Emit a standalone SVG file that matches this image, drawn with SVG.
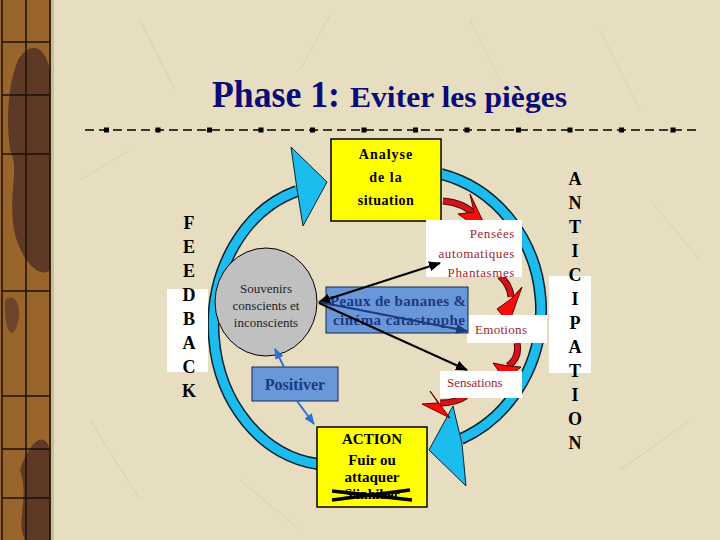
<svg xmlns="http://www.w3.org/2000/svg" width="720" height="540" viewBox="0 0 720 540">
<defs>
<style>
.serif{font-family:"Liberation Serif","Times New Roman",serif}
.letter{font-family:"Liberation Serif",serif;font-weight:bold;font-size:18px;fill:#000;text-anchor:middle}
.red{fill:#A0262C;font-family:"Liberation Serif",serif;font-size:13px}
.navy{fill:#1B3A82;font-family:"Liberation Serif",serif;font-weight:bold}
.bandOut{fill:none;stroke:#0A2030;stroke-width:12}
.bandIn{fill:none;stroke:#1CBDEE;stroke-width:9}
.dart{fill:#1CBDEE;stroke:#0A2030;stroke-width:1}
.redBand{fill:none;stroke:#5A0000;stroke-width:7}
.redBandIn{fill:none;stroke:#D0141A;stroke-width:5}
.redHead{fill:#FF0A0A;stroke:#5A0000;stroke-width:1}
.wbox{fill:#FFFFFF}
.blk{stroke:#000;stroke-width:2;fill:none}
.bl{stroke:#2F6FD8;stroke-width:2;fill:none}
</style>
<marker id="ah" markerWidth="12" markerHeight="10" refX="11" refY="5" orient="auto" markerUnits="userSpaceOnUse">
<path d="M0,0 L12,5 L0,10 Z" fill="#000"/>
</marker>
<marker id="ahs" markerWidth="12" markerHeight="10" refX="1" refY="5" orient="auto" markerUnits="userSpaceOnUse">
<path d="M12,0 L0,5 L12,10 Z" fill="#000"/>
</marker>
<marker id="ahn" markerWidth="12" markerHeight="10" refX="11" refY="5" orient="auto" markerUnits="userSpaceOnUse">
<path d="M0,0 L12,5 L0,10 Z" fill="#1B3A82"/>
</marker>
<marker id="ahb" markerWidth="11" markerHeight="9" refX="10" refY="4.5" orient="auto" markerUnits="userSpaceOnUse">
<path d="M0,0 L11,4.5 L0,9 Z" fill="#2F6FD8"/>
</marker>
</defs>

<!-- background -->
<rect x="0" y="0" width="720" height="540" fill="#E7DEC1"/>
<g stroke="#D2C6A4" stroke-width="1" opacity="0.6" fill="none">
<path d="M140 20 L175 90"/><path d="M330 15 L300 70"/><path d="M600 30 L640 110"/>
<path d="M90 420 L140 500"/><path d="M620 470 L690 420"/><path d="M500 80 L470 20"/>
<path d="M240 480 L300 530"/><path d="M650 200 L700 260"/><path d="M80 180 L130 150"/>
</g>

<!-- left decorative strip -->
<g id="strip">
<rect x="0" y="0" width="52" height="540" fill="#9A652B"/>
<path d="M18 60 C30 40 45 45 50 70 L50 270 C40 280 20 260 14 230 C8 190 20 170 10 150 C5 110 10 80 18 60 Z" fill="#5E3A26"/>
<path d="M20 470 C30 440 45 430 50 450 L50 540 L25 540 C15 520 30 500 20 470 Z" fill="#5E3A26"/>
<path d="M5 300 C15 290 25 310 15 330 C8 340 4 320 5 300 Z" fill="#6E452A"/>
<g stroke="#1A1008" stroke-width="1.5">
<line x1="2" y1="0" x2="2" y2="540"/><line x1="50" y1="0" x2="50" y2="540"/><line x1="26" y1="0" x2="26" y2="540"/>
<line x1="2" y1="42" x2="50" y2="42"/><line x1="2" y1="95" x2="50" y2="95"/><line x1="2" y1="154" x2="50" y2="154"/>
<line x1="2" y1="291" x2="50" y2="291"/><line x1="2" y1="396" x2="50" y2="396"/><line x1="2" y1="449" x2="50" y2="449"/>
<line x1="2" y1="498" x2="50" y2="498"/>
</g>
<rect x="51" y="0" width="3" height="540" fill="#C9BE9A"/>
</g>

<!-- title -->
<g id="title">
<text x="212" y="107" class="serif" font-weight="bold" font-size="37" fill="#0A0A78" textLength="128" lengthAdjust="spacingAndGlyphs">Phase 1:</text>
<text x="350" y="107" class="serif" font-weight="bold" font-size="29" fill="#0A0A78" textLength="217" lengthAdjust="spacingAndGlyphs">Eviter les pièges</text>
</g>

<!-- dashed rule -->
<g id="rule">
<line x1="85" y1="130" x2="697" y2="130" stroke="#000" stroke-width="1.5" stroke-dasharray="9 5"/>
<g fill="#000">
<rect x="104" y="127.5" width="5" height="5"/><rect x="155.5" y="127.5" width="5" height="5"/><rect x="207" y="127.5" width="5" height="5"/>
<rect x="258.5" y="127.5" width="5" height="5"/><rect x="310" y="127.5" width="5" height="5"/><rect x="361.5" y="127.5" width="5" height="5"/>
<rect x="413" y="127.5" width="5" height="5"/><rect x="464.5" y="127.5" width="5" height="5"/><rect x="516" y="127.5" width="5" height="5"/>
<rect x="567.5" y="127.5" width="5" height="5"/><rect x="619" y="127.5" width="5" height="5"/><rect x="670.5" y="127.5" width="5" height="5"/>
</g>
</g>

<!-- big cyan cycle arrows -->
<g id="cycle">
<path class="bandOut" d="M297 191 A118 140 0 0 0 318 464"/>
<path class="bandIn" d="M297 191 A118 140 0 0 0 318 464"/>
<polygon class="dart" points="291,147 327,182 303,226 297,189"/>
<path class="bandOut" d="M441 174 A131 140 0 0 1 461 439"/>
<path class="bandIn" d="M441 174 A131 140 0 0 1 461 439"/>
<polygon class="dart" points="453,406 429,450 466,486 462,444"/>
</g>

<!-- red flow arrows -->
<g id="redArrows">
<path class="redBand" d="M443 201 Q465 203 476 216"/><path class="redBandIn" d="M443 201 Q465 203 476 216"/>
<polygon class="redHead" points="470,194 490,236 458,214 474,212"/>
<path class="redBand" d="M500 276 Q510 285 511 297"/><path class="redBandIn" d="M500 276 Q510 285 511 297"/>
<polygon class="redHead" points="522,287 509,323 497,309 511,299"/>
<path class="redBand" d="M517 343 Q520 358 508 366"/><path class="redBandIn" d="M517 343 Q520 358 508 366"/>
<polygon class="redHead" points="493,363 508,366 521,367 505,380"/>
<path class="redBand" d="M466 396 Q456 403 440 403"/><path class="redBandIn" d="M466 396 Q456 403 440 403"/>
<polygon class="redHead" points="430,391 438,403 422,404 450,418"/>
</g>

<!-- side labels -->
<g id="feedback">
<rect x="167" y="289" width="41" height="83" fill="#FFFFFF"/>
<text class="letter" x="189" y="229">F</text><text class="letter" x="189" y="253">E</text>
<text class="letter" x="189" y="277">E</text><text class="letter" x="189" y="301">D</text>
<text class="letter" x="189" y="325">B</text><text class="letter" x="189" y="349">A</text>
<text class="letter" x="189" y="373">C</text><text class="letter" x="189" y="397">K</text>
</g>
<g id="anticipation">
<rect x="549" y="276" width="42" height="97" fill="#FFFFFF"/>
<text class="letter" x="575" y="185">A</text><text class="letter" x="575" y="209">N</text>
<text class="letter" x="575" y="233">T</text><text class="letter" x="575" y="257">I</text>
<text class="letter" x="575" y="281">C</text><text class="letter" x="575" y="305">I</text>
<text class="letter" x="575" y="329">P</text><text class="letter" x="575" y="353">A</text>
<text class="letter" x="575" y="377">T</text><text class="letter" x="575" y="401">I</text>
<text class="letter" x="575" y="425">O</text><text class="letter" x="575" y="449">N</text>
</g>

<!-- nodes -->
<g id="analyse">
<rect x="331" y="139" width="110" height="82" fill="#FFFF00" stroke="#000" stroke-width="1.5"/>
<text class="serif" font-weight="bold" font-size="14" letter-spacing="1" text-anchor="middle" x="386" y="159">Analyse</text>
<text class="serif" font-weight="bold" font-size="14" letter-spacing="1" text-anchor="middle" x="386" y="182">de la</text>
<text class="serif" font-weight="bold" font-size="14" letter-spacing="0.5" text-anchor="middle" x="386" y="205">situation</text>
</g>

<g id="pensees">
<rect class="wbox" x="426" y="220" width="96" height="57"/>
<text class="red" text-anchor="end" letter-spacing="0.6" x="515" y="238">Pensées</text>
<text class="red" text-anchor="end" letter-spacing="0.6" x="515" y="258">automatiques</text>
<text class="red" text-anchor="end" letter-spacing="0.6" x="515" y="277">Phantasmes</text>
</g>

<g id="emotions">
<rect class="wbox" x="467" y="315" width="80" height="28"/>
<text class="red" font-size="14" x="475" y="334" letter-spacing="0.3">Emotions</text>
</g>

<g id="sensations">
<rect class="wbox" x="440" y="371" width="82" height="27"/>
<text class="red" font-size="12" x="447" y="387">Sensations</text>
</g>

<g id="souvenirs">
<ellipse cx="266" cy="302" rx="51" ry="54" fill="#C0C0C0" stroke="#000" stroke-width="1"/>
<text class="serif" font-size="13" fill="#222" text-anchor="middle" x="266" y="293">Souvenirs</text>
<text class="serif" font-size="13" fill="#222" text-anchor="middle" x="266" y="310">conscients et</text>
<text class="serif" font-size="13" fill="#222" text-anchor="middle" x="266" y="327">inconscients</text>
</g>

<g id="peaux">
<rect x="326" y="287" width="142" height="46" fill="#6A96DA" stroke="#102850" stroke-width="1"/>
<text class="navy" font-size="15" x="330" y="306" textLength="136" lengthAdjust="spacing">Peaux de bananes &amp;</text>
<text class="navy" font-size="15" x="333" y="325" textLength="132" lengthAdjust="spacing">cinéma catastrophe</text>
</g>

<g id="positiver">
<rect x="252" y="367" width="86" height="34" fill="#6A96DA" stroke="#102850" stroke-width="1"/>
<text class="navy" font-size="16" text-anchor="middle" x="295" y="390">Positiver</text>
</g>

<g id="action">
<rect x="317" y="427" width="110" height="80" fill="#FFFF00" stroke="#000" stroke-width="1.5"/>
<text class="serif" font-size="15" font-weight="bold" text-anchor="middle" x="372" y="444">ACTION</text>
<text class="serif" font-size="15" font-weight="bold" text-anchor="middle" x="372" y="465">Fuir ou</text>
<text class="serif" font-size="15" font-weight="bold" text-anchor="middle" x="372" y="482">attaquer</text>
<text class="serif" font-size="14" font-weight="bold" text-anchor="middle" x="372" y="499">S'inhiber</text>
<line x1="332" y1="491" x2="412" y2="500" stroke="#000" stroke-width="3.5"/>
<line x1="332" y1="500" x2="410" y2="490" stroke="#000" stroke-width="3.5"/>
</g>

<!-- connectors -->
<g id="connectors">
<line class="blk" x1="319" y1="302" x2="440" y2="263" marker-start="url(#ahs)" marker-end="url(#ah)"/>
<line x1="319" y1="302" x2="467" y2="331" stroke="#1B3A82" stroke-width="2" marker-end="url(#ahn)"/>
<line class="blk" x1="319" y1="303" x2="467" y2="370" marker-end="url(#ah)"/>
<line class="bl" x1="284" y1="367" x2="275" y2="349" marker-end="url(#ahb)"/>
<line class="bl" x1="297" y1="401" x2="314" y2="424" marker-end="url(#ahb)"/>
</g>
</svg>
